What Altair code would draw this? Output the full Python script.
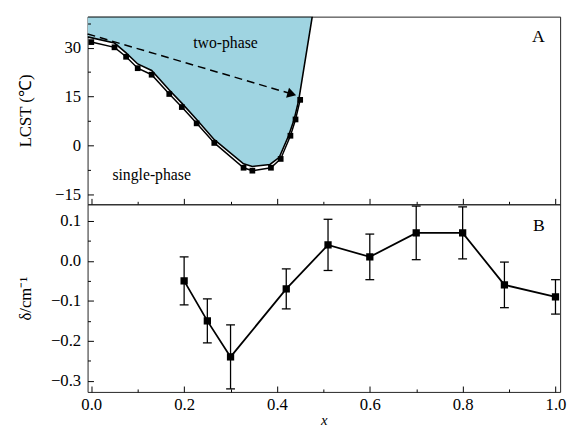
import altair as alt
import pandas as pd

# ---------------- data ----------------
# Panel A: LCST measurements
lcst_x = [0.0, 0.05, 0.075, 0.10, 0.13, 0.168, 0.195, 0.227, 0.265, 0.328, 0.347, 0.387, 0.408, 0.429, 0.44, 0.45]
lcst_y = [31.7, 30.1, 27.2, 23.7, 21.7, 15.8, 11.8, 6.8, 0.8, -6.8, -7.7, -6.8, -4.1, 3.0, 8.0, 14.0]
# Two-phase boundary (shaded region edge)
bnd_x = [-0.008, 0.05, 0.075, 0.10, 0.13, 0.168, 0.195, 0.227, 0.265, 0.328, 0.347, 0.385, 0.405, 0.425, 0.437, 0.447, 0.476]
bnd_y = [33.3, 31.4, 28.4, 25.0, 23.0, 17.0, 13.0, 8.0, 1.8, -5.6, -6.4, -5.8, -3.6, 3.0, 8.0, 14.0, 39.5]
# dashed arrow
arrow_x = [-0.008, 0.432]
arrow_y = [34.2, 15.8]
# Panel B: delta with error bars
d_x = [0.2, 0.25, 0.3, 0.42, 0.51, 0.6, 0.7, 0.8, 0.89, 1.0]
d_v = [-0.05, -0.15, -0.24, -0.07, 0.04, 0.01, 0.07, 0.07, -0.06, -0.09]
d_e = [0.06, 0.055, 0.08, 0.05, 0.064, 0.057, 0.067, 0.065, 0.057, 0.043]

x_major = [0.0, 0.2, 0.4, 0.6, 0.8, 1.0]
x_minor = [0.1, 0.3, 0.5, 0.7, 0.9]
a_major = [-15, 0, 15, 30]
a_minor = [-7.5, 7.5, 22.5, 37.5]
b_major = [-0.3, -0.2, -0.1, 0.0, 0.1]
b_minor = [-0.25, -0.15, -0.05, 0.05]

X_DOM = [-0.008, 1.01]
A_DOM = [-18.0, 39.5]
B_DOM = [-0.3276, 0.1415]

FONT = "Liberation Serif"
W, H = 481, 191
LBL = 17
TTL = 17

xs = alt.Scale(domain=X_DOM, nice=False, zero=False)
ya = alt.Scale(domain=A_DOM, nice=False, zero=False)
yb = alt.Scale(domain=B_DOM, nice=False, zero=False)


def axis_major(values, fmt, orient, labels=True, title=None, pad=7, titleX=None, titlePad=None, tfs=TTL):
    kw = dict(values=values, format=fmt, orient=orient, offset=-6, tickSize=6, tickWidth=1,
              tickColor="black", domain=False, grid=False, labels=labels,
              labelFont=FONT, labelFontSize=LBL, labelColor="black", labelPadding=pad,
              labelFlush=False, labelOverlap=False, zindex=1,
              titleFont=FONT, titleFontSize=tfs, titleFontWeight="normal", titleColor="black")
    kw["title"] = title
    if title is None:
        kw["title"] = None
    if titleX is not None:
        kw["titleX"] = titleX
    if titlePad is not None:
        kw["titlePadding"] = titlePad
    return alt.Axis(**kw)


def axis_minor(values, orient):
    return alt.Axis(values=values, orient=orient, offset=-3, tickSize=3, tickWidth=1,
                    tickColor="black", domain=False, grid=False, labels=False, title=None, zindex=1)


# ---------------- panel A ----------------
dfA = pd.DataFrame({"x": lcst_x, "y": lcst_y})
dfBnd = pd.DataFrame({"x": bnd_x, "y": bnd_y, "top": [A_DOM[1]] * len(bnd_x)})
outline_x = bnd_x + [X_DOM[0]]
outline_y = bnd_y + [A_DOM[1]]
dfOut = pd.DataFrame({"x": outline_x, "y": outline_y, "o": list(range(len(outline_x)))})
dfArrow = pd.DataFrame({"x": arrow_x, "y": arrow_y})
dfHead = pd.DataFrame({"x": [arrow_x[1]], "y": [arrow_y[1]]})

area = alt.Chart(dfBnd).mark_area(color="#9fd4e1", opacity=1, clip=True).encode(
    x=alt.X("x:Q", scale=xs, axis=axis_major(x_major, ".1f", "bottom", labels=False)),
    y=alt.Y("y:Q", scale=ya, axis=axis_major(a_major, "d", "left", title="LCST (℃)", titleX=-60)),
    y2="top",
)
outline = alt.Chart(dfOut).mark_line(color="black", strokeWidth=1.6, clip=True).encode(
    x=alt.X("x:Q", scale=xs, axis=axis_minor(x_minor, "bottom")),
    y=alt.Y("y:Q", scale=ya, axis=axis_minor(a_minor, "left")),
    order="o:Q",
)
dline = alt.Chart(dfA).mark_line(color="black", strokeWidth=1.5).encode(
    x=alt.X("x:Q", scale=xs, axis=None),
    y=alt.Y("y:Q", scale=ya, axis=None),
)
dpts = alt.Chart(dfA).mark_square(color="black", size=34, opacity=1).encode(
    x=alt.X("x:Q", scale=xs, axis=None),
    y=alt.Y("y:Q", scale=ya, axis=None),
)
arrow = alt.Chart(dfArrow).mark_line(color="black", strokeWidth=1.5, strokeDash=[8, 5]).encode(
    x=alt.X("x:Q", scale=xs, axis=None),
    y=alt.Y("y:Q", scale=ya, axis=None),
)
head = alt.Chart(dfHead).mark_point(shape="triangle-right", filled=True, color="black",
                                    size=110, angle=16.4, opacity=1).encode(
    x=alt.X("x:Q", scale=xs, axis=None),
    y=alt.Y("y:Q", scale=ya, axis=None),
)
dfTxtA = pd.DataFrame({"x": [0.289, 0.13], "y": [31.5, -9.2], "t": ["two-phase", "single-phase"]})
txtA = alt.Chart(dfTxtA).mark_text(font=FONT, fontSize=16, color="black").encode(
    x=alt.X("x:Q", scale=xs, axis=None),
    y=alt.Y("y:Q", scale=ya, axis=None),
    text="t:N",
)
dfLA = pd.DataFrame({"x": [0.963], "y": [33.3], "t": ["A"]})
labA = alt.Chart(dfLA).mark_text(font=FONT, fontSize=18, color="black").encode(
    x=alt.X("x:Q", scale=xs, axis=None),
    y=alt.Y("y:Q", scale=ya, axis=None),
    text="t:N",
)

panelA = alt.layer(area, outline, dline, dpts, arrow, head, txtA, labA).resolve_axis(
    x="independent", y="independent").properties(width=W, height=H)

# ---------------- panel B ----------------
dfD = pd.DataFrame({"x": d_x, "v": d_v, "lo": [v - e for v, e in zip(d_v, d_e)],
                    "hi": [v + e for v, e in zip(d_v, d_e)]})

bline = alt.Chart(dfD).mark_line(color="black", strokeWidth=1.8).encode(
    x=alt.X("x:Q", scale=xs, axis=axis_major(x_major, ".1f", "bottom", title="x", pad=5, titlePad=0, tfs=15)),
    y=alt.Y("v:Q", scale=yb, axis=axis_major(b_major, ".1f", "left", title="δ/cm⁻¹", titleX=-60)),
)
bbar = alt.Chart(dfD).mark_rule(color="black", strokeWidth=1.3).encode(
    x=alt.X("x:Q", scale=xs, axis=axis_minor(x_minor, "bottom")),
    y=alt.Y("lo:Q", scale=yb, axis=axis_minor(b_minor, "left")),
    y2="hi:Q",
)
cap_lo = alt.Chart(dfD).mark_tick(color="black", orient="horizontal", size=9, thickness=1.3, opacity=1).encode(
    x=alt.X("x:Q", scale=xs, axis=None),
    y=alt.Y("lo:Q", scale=yb, axis=None),
)
cap_hi = alt.Chart(dfD).mark_tick(color="black", orient="horizontal", size=9, thickness=1.3, opacity=1).encode(
    x=alt.X("x:Q", scale=xs, axis=None),
    y=alt.Y("hi:Q", scale=yb, axis=None),
)
bpts = alt.Chart(dfD).mark_square(color="black", size=55, opacity=1).encode(
    x=alt.X("x:Q", scale=xs, axis=None),
    y=alt.Y("v:Q", scale=yb, axis=None),
)
dfLB = pd.DataFrame({"x": [0.964], "y": [0.088], "t": ["B"]})
labB = alt.Chart(dfLB).mark_text(font=FONT, fontSize=18, color="black").encode(
    x=alt.X("x:Q", scale=xs, axis=None),
    y=alt.Y("y:Q", scale=yb, axis=None),
    text="t:N",
)

panelB = alt.layer(bline, bbar, cap_lo, cap_hi, bpts, labB).resolve_axis(
    x="independent", y="independent").properties(width=W, height=H)

chart = alt.vconcat(panelA, panelB, spacing=0, bounds="flush").configure_view(
    stroke="#222222", strokeWidth=1
).configure_axisBottom(
    titleFontStyle="italic"
).properties(
    padding={"left": 8, "top": 4, "right": 0, "bottom": 0},
    background="white",
)

chart.save("out.html", embed_options={"renderer": "svg", "actions": False})
